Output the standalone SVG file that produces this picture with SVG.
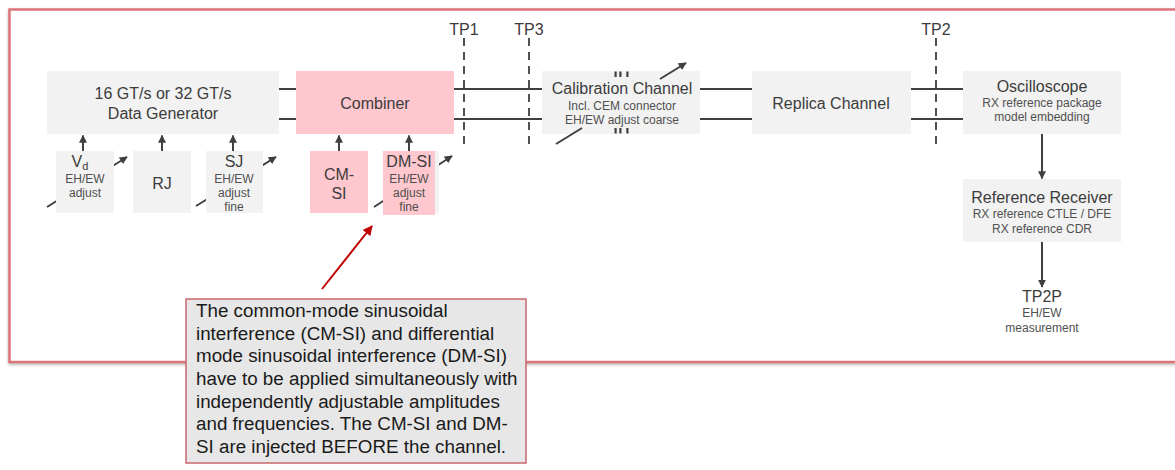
<svg xmlns="http://www.w3.org/2000/svg" width="1175" height="470" viewBox="0 0 1175 470">
<style>
.box{fill:#f2f2f2}
.pink{fill:#ffc7ce}
.t{font-family:"Liberation Sans",Arial,sans-serif;fill:#3c3c3c;text-anchor:middle}
.big{font-size:16px}
.sm{font-size:12px;fill:#505050}
.ln{stroke:#404040;stroke-width:2;fill:none}
.tp{stroke:#505050;stroke-width:2;stroke-dasharray:8,6;fill:none}
.arr{stroke:#404040;stroke-width:2;fill:none;marker-end:url(#ah)}
.cem{fill:#404040}
.note{font-family:"Liberation Sans",Arial,sans-serif;font-size:18.8px;fill:#1a1a1a}
</style>
<defs>
<marker id="ah" viewBox="0 0 10 10" refX="9" refY="5" markerWidth="4" markerHeight="4" orient="auto" markerUnits="strokeWidth">
<path d="M0,0 L10,5 L0,10 z" fill="#404040"/>
</marker>
<marker id="ahr" viewBox="0 0 10 10" refX="9" refY="5" markerWidth="5" markerHeight="5" orient="auto" markerUnits="strokeWidth">
<path d="M0,0 L10,5 L0,10 z" fill="#c00000"/>
</marker>
<filter id="sh" x="-5%" y="-10%" width="110%" height="120%">
<feDropShadow dx="0" dy="1.5" stdDeviation="1.8" flood-color="#777" flood-opacity="0.55"/>
</filter>
</defs>

<rect id="frame" x="9.5" y="9.5" width="1190" height="352.5" fill="#fff" stroke="#dc7479" stroke-width="2.5" filter="url(#sh)"/>

<g id="connectors">
<line class="ln" x1="279" y1="89" x2="296" y2="89"/>
<line class="ln" x1="279" y1="119" x2="296" y2="119"/>
<line class="ln" x1="454" y1="89" x2="542" y2="89"/>
<line class="ln" x1="454" y1="119" x2="542" y2="119"/>
<line class="ln" x1="700" y1="89" x2="752" y2="89"/>
<line class="ln" x1="700" y1="119" x2="752" y2="119"/>
<line class="ln" x1="911" y1="89" x2="963" y2="89"/>
<line class="ln" x1="911" y1="119" x2="963" y2="119"/>
<line class="arr" x1="83" y1="151" x2="83" y2="135.5"/>
<line class="arr" x1="162" y1="151" x2="162" y2="135.5"/>
<line class="arr" x1="233" y1="151" x2="233" y2="135.5"/>
<line class="arr" x1="339" y1="151" x2="339" y2="135.5"/>
<line class="arr" x1="409" y1="151" x2="409" y2="135.5"/>
<line class="arr" x1="47" y1="207" x2="127" y2="157"/>
<line class="arr" x1="196" y1="206" x2="276" y2="157"/>
<line class="arr" x1="374" y1="207" x2="452" y2="156"/>
<line class="arr" x1="1042" y1="134" x2="1042" y2="178.5"/>
<line class="arr" x1="1042" y1="242" x2="1042" y2="287"/>
</g>

<g id="tp1">
<line class="tp" x1="464" y1="38" x2="464" y2="145"/>
<text class="t big" x="464" y="35">TP1</text>
</g>
<g id="tp3">
<line class="tp" x1="529" y1="38" x2="529" y2="145"/>
<text class="t big" x="529" y="35">TP3</text>
</g>
<g id="tp2">
<line class="tp" x1="936" y1="38" x2="936" y2="145"/>
<text class="t big" x="936" y="35">TP2</text>
</g>

<g id="data-generator">
<rect class="box" x="47" y="71" width="232" height="63"/>
<text class="t big" x="163" y="99">16 GT/s or 32 GT/s</text>
<text class="t big" x="163" y="119">Data Generator</text>
</g>

<g id="combiner">
<rect class="pink" x="296" y="71" width="158" height="63"/>
<text class="t big" x="375" y="109">Combiner</text>
</g>

<g id="vd">
<rect class="box" x="56" y="151" width="58" height="62"/>
<text class="t big" x="80" y="167">V<tspan font-size="11" dy="3">d</tspan></text>
<text class="t sm" x="85" y="183">EH/EW</text>
<text class="t sm" x="85" y="197">adjust</text>
</g>

<g id="rj">
<rect class="box" x="133" y="151" width="58" height="62"/>
<text class="t big" x="162" y="189">RJ</text>
</g>

<g id="sj">
<rect class="box" x="206" y="151" width="57" height="62"/>
<text class="t big" x="234" y="167">SJ</text>
<text class="t sm" x="234" y="183">EH/EW</text>
<text class="t sm" x="234" y="197">adjust</text>
<text class="t sm" x="234" y="211">fine</text>
</g>

<g id="cm-si">
<rect class="pink" x="310" y="151" width="58" height="62"/>
<text class="t big" x="339" y="180">CM-</text>
<text class="t big" x="339" y="199">SI</text>
</g>

<g id="dm-si">
<rect class="box" x="383" y="151" width="56" height="62"/>
<rect class="pink" x="383" y="151" width="52" height="64"/>
<text class="t big" x="409" y="167">DM-SI</text>
<text class="t sm" x="409" y="183">EH/EW</text>
<text class="t sm" x="409" y="197">adjust</text>
<text class="t sm" x="409" y="211">fine</text>
</g>

<g id="calibration-channel">
<rect class="box" x="542" y="71" width="158" height="63"/>
<text class="t big" x="622" y="94">Calibration Channel</text>
<text class="t sm" x="622" y="110">Incl. CEM connector</text>
<text class="t sm" x="622" y="124">EH/EW adjust coarse</text>
<rect class="cem" x="614.5" y="71.5" width="2.2" height="5.5"/>
<rect class="cem" x="619.3" y="71.5" width="2.2" height="5.5"/>
<rect class="cem" x="626.3" y="71.5" width="2.2" height="5.5"/>
<rect class="cem" x="614.5" y="128" width="2.2" height="5.5"/>
<rect class="cem" x="619.3" y="128" width="2.2" height="5.5"/>
<rect class="cem" x="626.3" y="128" width="2.2" height="5.5"/>
<line class="ln" x1="556" y1="144" x2="582" y2="128"/>
<line class="arr" x1="660" y1="79" x2="686" y2="63"/>
</g>

<g id="replica-channel">
<rect class="box" x="752" y="71" width="159" height="63"/>
<text class="t big" x="831" y="109">Replica Channel</text>
</g>

<g id="oscilloscope">
<rect class="box" x="963" y="71" width="158" height="63"/>
<text class="t big" x="1042" y="92">Oscilloscope</text>
<text class="t sm" x="1042" y="107">RX reference package</text>
<text class="t sm" x="1042" y="121">model embedding</text>
</g>

<g id="reference-receiver">
<rect class="box" x="963" y="179" width="158" height="63"/>
<text class="t big" x="1042" y="203">Reference Receiver</text>
<text class="t sm" x="1042" y="218">RX reference CTLE / DFE</text>
<text class="t sm" x="1042" y="233">RX reference CDR</text>
</g>

<g id="tp2p">
<text class="t big" x="1042" y="302">TP2P</text>
<text class="t sm" x="1042" y="317">EH/EW</text>
<text class="t sm" x="1042" y="332">measurement</text>
</g>

<g id="callout">
<line x1="322" y1="289" x2="372" y2="226" stroke="#c00000" stroke-width="2" marker-end="url(#ahr)"/>
<rect x="186" y="299" width="340" height="164" fill="#e7e7e7" stroke="#c8686c" stroke-width="1.5"/>
<text class="note" x="196" y="317">The common-mode sinusoidal</text>
<text class="note" x="196" y="339.7">interference (CM-SI) and differential</text>
<text class="note" x="196" y="362.3">mode sinusoidal interference (DM-SI)</text>
<text class="note" x="196" y="385">have to be applied simultaneously with</text>
<text class="note" x="196" y="407.7">independently adjustable amplitudes</text>
<text class="note" x="196" y="430.3">and frequencies. The CM-SI and DM-</text>
<text class="note" x="196" y="453">SI are injected BEFORE the channel.</text>
</g>
</svg>
